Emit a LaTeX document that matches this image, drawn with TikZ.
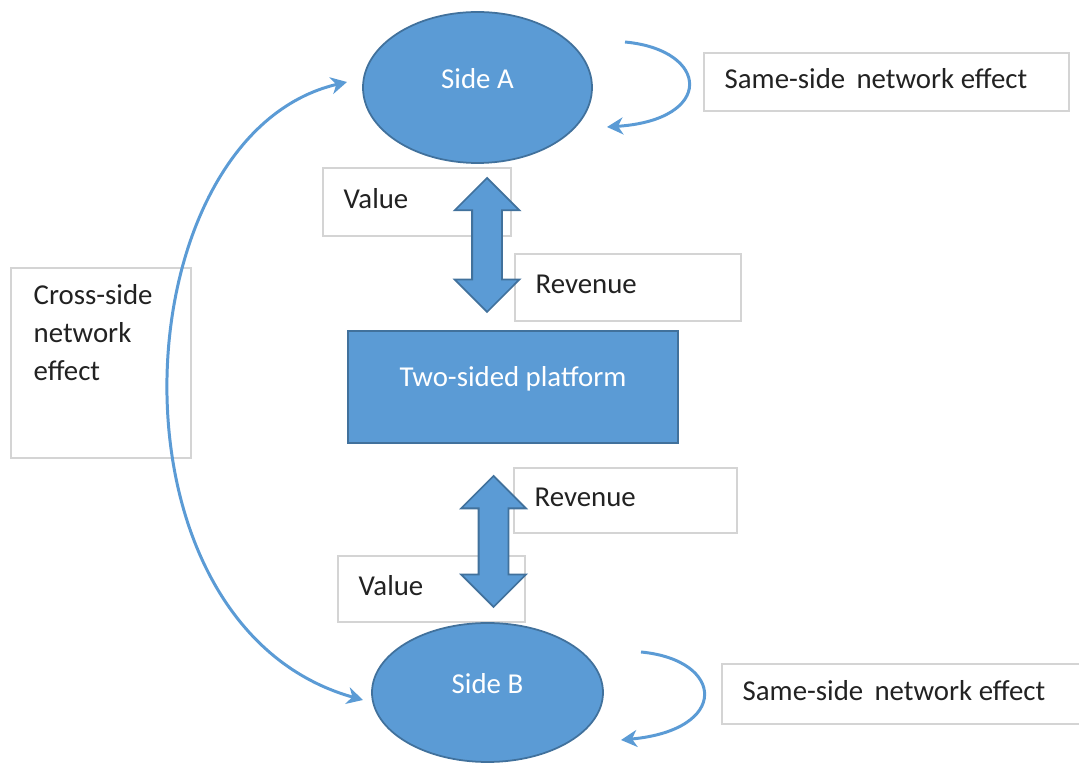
\documentclass[tikz,border=0pt]{standalone}
\usepackage{fontspec}
\setmainfont{Carlito}
\usetikzlibrary{shapes.geometric,shapes.arrows,arrows.meta}

\definecolor{platformblue}{HTML}{5B9BD5}
\definecolor{edgeblue}{HTML}{41719C}
\definecolor{boxgray}{HTML}{D4D4D4}
\definecolor{inkgray}{HTML}{222222}

\newcommand*{\LabelFont}{\fontsize{8.2}{10.8}\selectfont}
\newcommand*{\NoteBoxes}[1]{% #1 = list of name/x/y/width/height/text
  \foreach \boxname/\x/\y/\w/\h/\boxtext in {#1} {
    \node [notebox, minimum width=\w cm, minimum height=\h cm]
      (\boxname) at (\x,-\y) {};
    \node [notetext] (\boxname-text) at ([xshift=.21cm,yshift=.03cm]\boxname.west) {\boxtext};
    }%
}

\tikzset{
    notebox/.style={rectangle, draw=boxgray, fill=white, line width=.6pt,
        anchor=north west, inner sep=0pt},
    notetext/.style={anchor=west, inner sep=0pt, align=left, text=inkgray,
        font=\LabelFont},
    side/.style={ellipse, fill=platformblue, draw=edgeblue, line width=.5pt,
        inner sep=0pt, text=white, font=\LabelFont, text depth=.18cm},
    platform/.style={rectangle, fill=platformblue, draw=edgeblue, line width=.5pt,
        inner sep=0pt, text=white, font=\LabelFont, text depth=.2cm},
    flow/.style={double arrow, rotate=90, fill=platformblue, draw=edgeblue,
        line width=.5pt, inner xsep=0pt, inner ysep=.14cm, minimum width=.63cm,
        double arrow head extend=.175cm},
    tip/.tip={Stealth[length=1.6mm, width=1.7mm, inset=.5mm]},
    link/.style={draw=platformblue, line width=.85pt, -tip},
}

\begin{document}
\begin{tikzpicture}
    \useasboundingbox (0,0) rectangle (10.79,-7.63);

    \NoteBoxes{
        valueA/3.22/1.67/1.88/.68/Value,
        revenueA/5.14/2.53/2.26/.67/Revenue,
        revenueB/5.13/4.67/2.23/.65/Revenue,
        valueB/3.37/5.55/1.87/.66/Value,
        sameA/7.03/.52/3.65/.58/Same-side~\,network effect,
        sameB/7.21/6.63/3.62/.60/Same-side~\,network effect
    }

    % cross-side label box, text sits at the top
    \node [notebox, minimum width=1.80cm, minimum height=1.90cm] (cross) at (.10,-2.67) {};
    \node [notetext, anchor=north west] (cross-text) at ([xshift=.23cm,yshift=-.17cm]cross.north west)
        {Cross-side\\network\\effect};

    \node [side, minimum width=2.29cm, minimum height=1.51cm] (sideA) at (4.775,-.875) {Side A};
    \node [side, minimum width=2.31cm, minimum height=1.39cm] (sideB) at (4.875,-6.925) {Side B};
    \node [platform, minimum width=3.30cm, minimum height=1.12cm] (twosided) at (5.13,-3.87) {Two-sided platform};

    \node [flow, minimum height=1.34cm] (flowA) at (4.87,-2.45) {};
    \node [flow, minimum height=1.31cm] (flowB) at (4.935,-5.415) {};

    % same-side loops
    \coordinate (loopA-in) at (6.25,-.42);
    \coordinate (loopA-out) at (6.07,-1.27);
    \coordinate (loopB-in) at (6.41,-6.52);
    \coordinate (loopB-out) at (6.21,-7.40);
    \draw [link] (loopA-in) .. controls (7.10,-.50) and (7.15,-1.20) .. (loopA-out);
    \draw [link] (loopB-in) .. controls (7.25,-6.60) and (7.30,-7.30) .. (loopB-out);

    % cross-side arc
    \coordinate (crossA) at (3.47,-.82);
    \coordinate (crossB) at (3.63,-7.00);
    \draw [link, tip-tip] (crossA)
        .. controls (1.20,-1.35) and (.95,-6.25) .. (crossB);
\end{tikzpicture}
\end{document}
